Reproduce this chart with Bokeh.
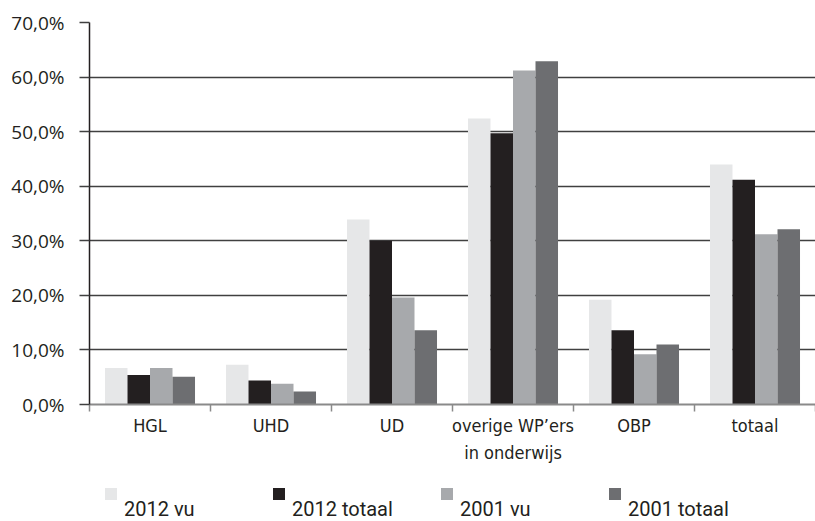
from bokeh.plotting import figure
from bokeh.layouts import column
from bokeh.models import Range1d, FixedTicker, Legend, LegendItem, ColumnDataSource
from bokeh.transform import dodge
from bokeh.embed import file_html
from bokeh.resources import INLINE
import numpy as np

# ---- data ----
categories = ["HGL", "UHD", "UD", "overige WP\u2019ers\nin onderwijs", "OBP", "totaal"]
series_names = ["2012 vu", "2012 totaal", "2001 vu", "2001 totaal"]
vu_2012 = [6.7, 7.3, 33.9, 52.4, 19.2, 44.0]
totaal_2012 = [5.4, 4.4, 30.0, 49.7, 13.6, 41.2]
vu_2001 = [6.7, 3.8, 19.6, 61.2, 9.2, 31.2]
totaal_2001 = [5.1, 2.4, 13.6, 62.9, 11.0, 32.1]
y_ticks = [0, 10, 20, 30, 40, 50, 60, 70]
y_tick_labels = ["0,0%", "10,0%", "20,0%", "30,0%", "40,0%", "50,0%", "60,0%", "70,0%"]

colors = ["#e6e7e8", "#231f20", "#a7a9ac", "#6d6e71"]
TEXT = "#231f20"
COND_X = "DejaVu Sans Condensed"
COND_L = "Roboto"
REG = "Open Sans"

n = len(categories)
centers = np.arange(n) + 0.5
source = ColumnDataSource(dict(
    x=centers,
    s0=vu_2012, s1=totaal_2012, s2=vu_2001, s3=totaal_2001,
))
series_cols = ["s0", "s1", "s2", "s3"]

H1 = 470
p = figure(width=815, height=H1, output_backend="svg", toolbar_location=None,
           x_range=Range1d(0, n), y_range=Range1d(y_ticks[0], y_ticks[-1]),
           min_border_left=89, min_border_right=0, min_border_top=22,
           min_border_bottom=H1 - 404)
p.outline_line_color = None
p.background_fill_color = "white"
p.border_fill_color = "white"

bar_w = 0.186
for k, col in enumerate(series_cols):
    off = (k - 1.5) * bar_w
    p.vbar(x=dodge("x", off), top=col, width=bar_w, source=source,
           fill_color=colors[k], line_color=None)

# grid
p.xgrid.visible = False
p.ygrid.ticker = FixedTicker(ticks=y_ticks)
p.ygrid.grid_line_color = "#404040"
p.ygrid.grid_line_width = 1.5

# y axis
ya = p.yaxis[0]
ya.ticker = FixedTicker(ticks=y_ticks)
ya.major_label_overrides = {t: l for t, l in zip(y_ticks, y_tick_labels)}
ya.axis_line_color = TEXT
ya.axis_line_width = 1.5
ya.major_tick_out = 10
ya.major_tick_in = 0
ya.major_tick_line_color = "#404040"
ya.major_tick_line_width = 1.5
ya.minor_tick_line_color = None
ya.major_label_standoff = 15
ya.major_label_text_font = REG
ya.major_label_text_font_size = "19px"
ya.major_label_text_color = TEXT

# x axis: labels at centres, ticks at boundaries (minor ticks)
xa = p.xaxis[0]
xa.ticker = FixedTicker(ticks=list(centers), minor_ticks=list(np.arange(n + 1)))
xa.major_label_overrides = {float(c): lab for c, lab in zip(centers, categories)}
xa.axis_line_color = "#8a8a8a"
xa.axis_line_width = 2
xa.major_tick_line_color = None
xa.major_tick_out = 0
xa.major_tick_in = 0
xa.minor_tick_line_color = "#8a8a8a"
xa.minor_tick_line_width = 1.5
xa.minor_tick_out = 7
xa.minor_tick_in = 0
xa.major_label_standoff = 3
xa.major_label_text_font = COND_X
xa.major_label_text_font_size = "18px"
xa.major_label_text_color = TEXT
xa.major_label_text_line_height = 1.3

# ---- legend strip (separate figure, frame aligned with main frame) ----
H2 = 521 - H1
lg = figure(width=815, height=H2, output_backend="svg", toolbar_location=None,
            x_range=Range1d(-2, -1), y_range=Range1d(-2, -1),
            min_border=0, x_axis_type=None, y_axis_type=None)
lg.outline_line_color = None
lg.xgrid.visible = False
lg.ygrid.visible = False
# zero-height bars outside the strip's ranges: only their legend swatches show
leg_renderers = [lg.vbar(x="x", top=col, bottom=col, width=0.1, source=source,
                         fill_color=c, line_color=None)
                 for col, c in zip(series_cols, colors)]

common = dict(orientation="horizontal", spacing=0, padding=0, margin=0,
              border_line_color=None, background_fill_alpha=0)

# swatches row
swatches = Legend(
    items=[LegendItem(label=" ", renderers=[r]) for r in leg_renderers],
    location=(13.5, 20.5), glyph_width=15, glyph_height=15,
    label_height=15, label_width=147, label_standoff=6,
    label_text_font_size="1px", **common,
)
# labels row, set slightly lower (as in the original layout)
labels = Legend(
    items=[LegendItem(label=nm, renderers=[r]) for nm, r in zip(series_names, leg_renderers)],
    location=(35, 0), glyph_width=0, glyph_height=20,
    label_height=20, label_width=168, label_standoff=0,
    label_text_font=COND_L, label_text_font_size="20px",
    label_text_line_height=1.0, label_text_color=TEXT, **common,
)
lg.add_layout(swatches)
lg.add_layout(labels)

layout = column(p, lg, spacing=0)
open("out.html", "w").write(file_html(layout, INLINE))
